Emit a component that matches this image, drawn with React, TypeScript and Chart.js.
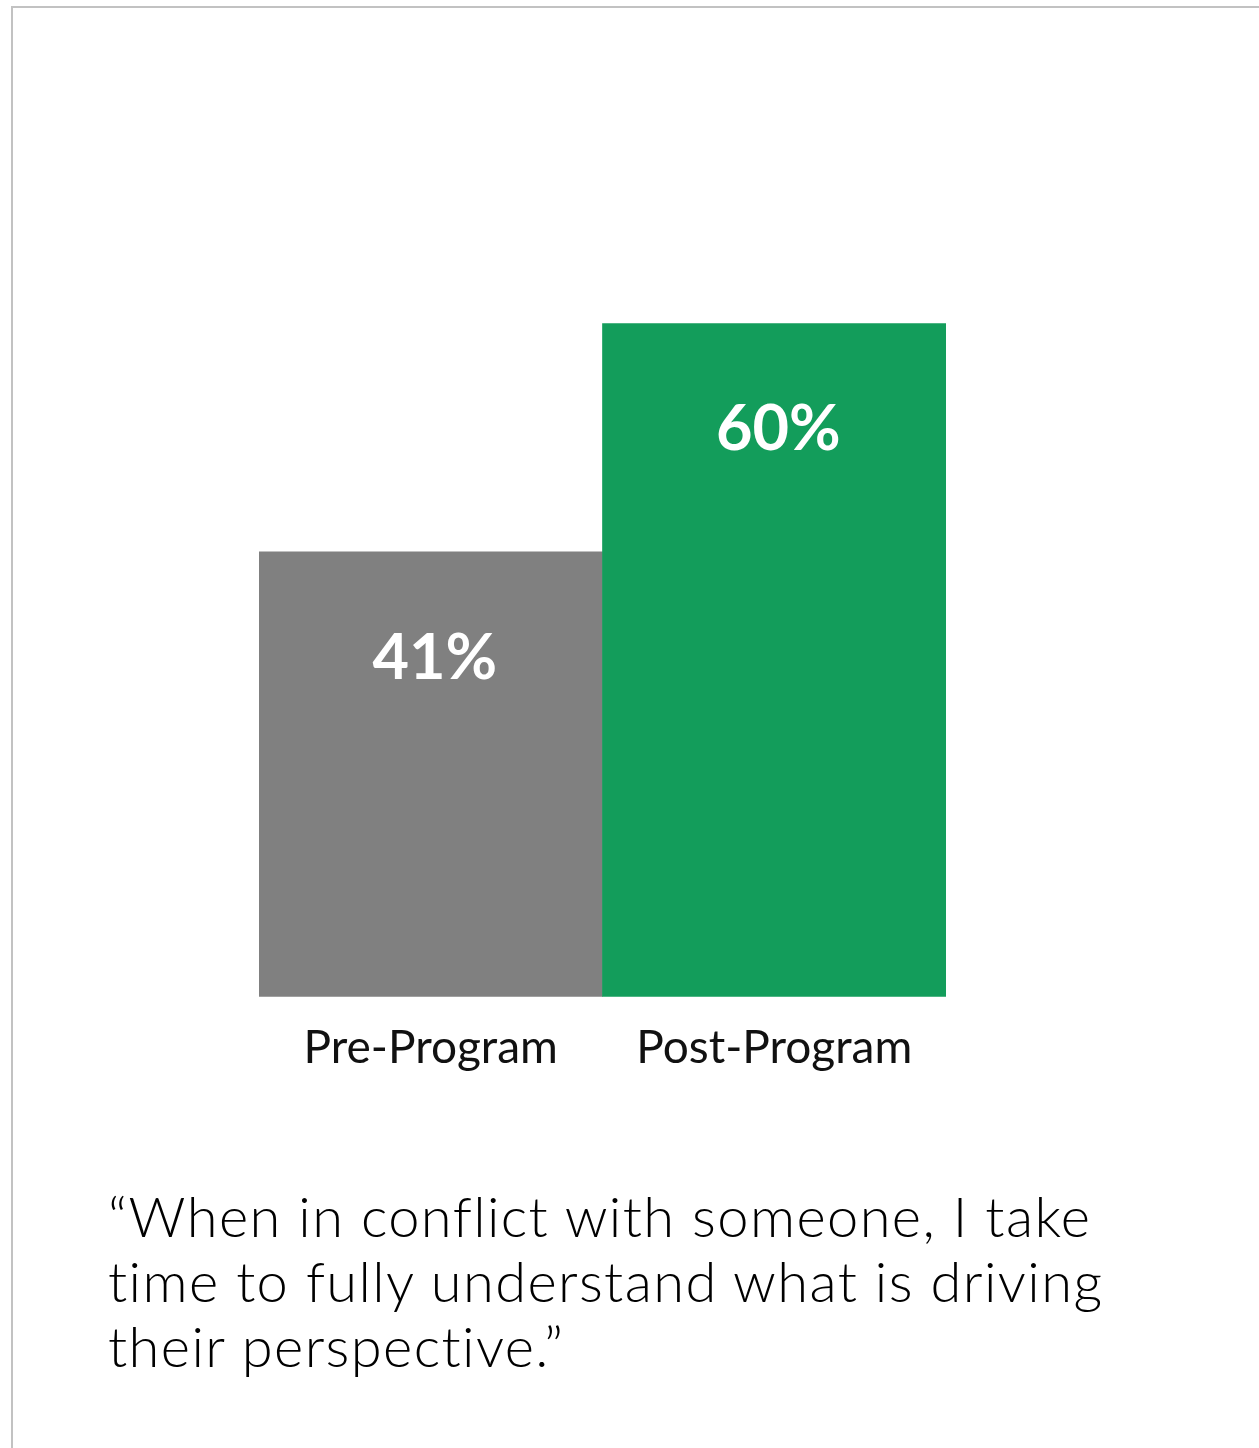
import React, { useEffect, useRef } from "react";
import { Chart, registerables } from "chart.js";

Chart.register(...registerables);

const categories = ["Pre-Program", "Post-Program"];
const values = [41, 60];
const valueLabels = ["41%", "60%"];
const barColors = ["#808080", "#139d5b"];
const quoteLines = [
  "\u201CWhen in conflict with someone, I take",
  "time to fully understand what is driving",
  "their perspective.\u201D",
];

const FONT = "Lato, 'Noto Sans', sans-serif";

const valueLabelPlugin = {
  id: "valueLabels",
  afterDatasetsDraw(chart: any) {
    const ctx = chart.ctx;
    const meta = chart.getDatasetMeta(0);
    ctx.save();
    ctx.fillStyle = "#ffffff";
    ctx.font = `bold 63px ${FONT}`;
    ctx.textAlign = "center";
    ctx.textBaseline = "alphabetic";
    meta.data.forEach((bar: any, i: number) => {
      ctx.fillText(valueLabels[i], bar.x + 4, bar.y + 127);
    });
    ctx.restore();
  },
};

export default function App() {
  const canvasRef = useRef<HTMLCanvasElement | null>(null);

  useEffect(() => {
    document.body.style.margin = "0";
    const canvas = canvasRef.current;
    if (!canvas) return;
    const chart = new Chart(canvas, {
      type: "bar",
      data: {
        labels: categories,
        datasets: [
          {
            data: values,
            backgroundColor: barColors,
            borderWidth: 0,
            barPercentage: 1,
            categoryPercentage: 1,
          },
        ],
      },
      options: {
        animation: false,
        responsive: false,
        maintainAspectRatio: false,
        layout: { padding: { left: 259, right: 313, top: 83, bottom: 0 } },
        plugins: { legend: { display: false }, tooltip: { enabled: false } },
        scales: {
          x: {
            grid: { display: false, drawTicks: false },
            border: { display: false },
            ticks: {
              color: "#111111",
              font: { family: FONT, size: 46 },
              padding: 24,
            },
          },
          y: {
            display: false,
            min: 4,
            max: 80,
          },
        },
      },
      plugins: [valueLabelPlugin],
    });
    return () => chart.destroy();
  }, []);

  return (
    <div style={{ position: "relative", width: 1259, height: 1448, overflow: "hidden", background: "#fff" }}>
      <div
        style={{
          position: "absolute",
          left: 11,
          top: 6,
          width: 1300,
          height: 1500,
          borderTop: "2px solid #c2c2c2",
          borderLeft: "2px solid #c2c2c2",
          boxSizing: "border-box",
        }}
      />
      <canvas
        ref={canvasRef}
        width={1259}
        height={1100}
        style={{ position: "absolute", left: 0, top: 0, width: 1259, height: 1100 }}
      />
      <div
        style={{
          position: "absolute",
          left: 108,
          top: 1183,
          fontFamily: FONT,
          fontSize: 56,
          fontWeight: 300,
          letterSpacing: "1.4px",
          lineHeight: "65px",
          color: "#000000",
          whiteSpace: "nowrap",
        }}
      >
        {quoteLines.map((l, i) => (
          <div key={i}>{l}</div>
        ))}
      </div>
    </div>
  );
}
